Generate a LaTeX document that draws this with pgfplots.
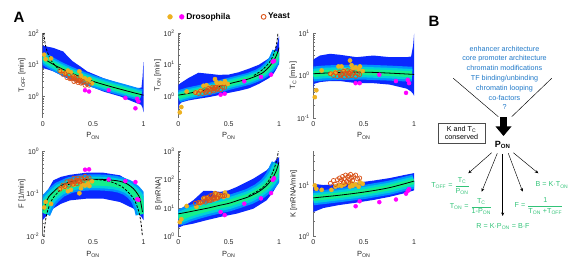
\documentclass[border=0pt]{standalone}
\usepackage{fontspec}
\setmainfont{Liberation Sans}
\usepackage{pgfplots}
\pgfplotsset{compat=1.18}
\usetikzlibrary{arrows.meta}

\definecolor{droso}{RGB}{237,177,32}
\definecolor{magen}{RGB}{255,0,255}
\definecolor{yeastc}{RGB}{217,83,25}
\definecolor{dens1}{RGB}{10,40,255}
\definecolor{dens2}{RGB}{0,145,255}
\definecolor{dens3}{RGB}{0,210,215}
\definecolor{dens4}{RGB}{20,240,140}
\definecolor{axgray}{RGB}{110,110,110}
\definecolor{btext}{RGB}{30,120,200}
\definecolor{gtext}{RGB}{50,195,120}

\pgfplotsset{
  every axis/.append style={
    scale only axis, width=100.8pt, height=85pt, anchor=south west,
    xmin=0, xmax=1,
    axis lines=left, axis line style={-, draw=axgray, line width=0.6pt},
    x axis line style={draw=none},
    xtick={0,0.5,1}, xticklabels={0,0.5,1},
    xtick style={draw=none},
    ytick style={draw=axgray, line width=0.5pt},
    tick align=inside, major tick length=2.5pt, minor tick length=1.5pt,
    ticklabel style={font=\fontsize{7}{8}\selectfont, text=black!85},
    label style={font=\fontsize{7.5}{9}\selectfont, text=black!85},
    xlabel={P\textsubscript{ON}},
    xlabel style={at={(axis description cs:0.5,-0.21)}, anchor=center},
  },
  densln/.style={no marks, line cap=butt, line join=round},
  ptorange/.style={only marks, mark=*, color=droso, mark size=2.1pt},
  ptmag/.style={only marks, mark=*, color=magen, mark size=2pt},
  ptyeast/.style={only marks, mark=o, color=yeastc, mark size=2.1pt, line width=0.7pt},
  solidcurve/.style={black, line width=0.8pt, no marks, smooth},
  dashcurve/.style={black, line width=0.8pt, no marks, smooth, dash pattern=on 2.5pt off 1.5pt},
}

\begin{document}
\begin{tikzpicture}[x=1pt,y=1pt]
\path[use as bounding box] (0pt,0pt) rectangle (571pt,267pt);

% ---------------- T_OFF ----------------
\begin{axis}[at={(42.7pt,149pt)}, ymode=log, ymin=0.21, ymax=100,
  ytick={1,10,100}, yticklabels={10\textsuperscript{0},10\textsuperscript{1},10\textsuperscript{2}},
  minor ytick={0.3,0.4,0.5,0.6,0.7,0.8,0.9,2,3,4,5,6,7,8,9,20,30,40,50,60,70,80,90},
  ylabel={T\textsubscript{OFF} [min]},
  ylabel style={at={(axis description cs:-0.205,0.5)}, anchor=center}]
\addplot[fill=dens1, draw=none] coordinates {(0,7.9) (0.05,7.1) (0.105,6.2) (0.17,4.9) (0.24,3.8) (0.34,2.9) (0.44,2.3) (0.6,1.44) (0.77,1.0) (0.93,0.62) (0.975,0.55) (0.99,0.45) (1.0,0.32)
 (1.0,12) (0.99,4) (0.98,1.9) (0.93,1.84) (0.77,2.5) (0.6,3.8) (0.44,6.2) (0.37,9) (0.30,12.7) (0.25,18) (0.205,26) (0.105,34) (0.05,37) (0,40)};
\addplot[densln, dens2, line width=12pt] coordinates {(0,17.5) (0.05,13) (0.1,10.5) (0.15,8.6) (0.2,7.2) (0.3,5.2) (0.4,3.9) (0.5,3.0) (0.6,2.4) (0.7,1.95) (0.8,1.6) (0.9,1.3) (0.975,1.1)};
\addplot[densln, dens3, line width=8.5pt] coordinates {(0,17.5) (0.05,13) (0.1,10.5) (0.15,8.6) (0.2,7.2) (0.3,5.2) (0.4,3.9) (0.5,3.0) (0.6,2.4) (0.7,1.95) (0.8,1.6) (0.9,1.3) (0.975,1.1)};
\addplot[densln, dens4, line width=5pt] coordinates {(0,17.5) (0.05,13) (0.1,10.5) (0.15,8.6) (0.2,7.2) (0.3,5.2) (0.4,3.9) (0.5,3.0) (0.6,2.4) (0.7,1.95) (0.8,1.6) (0.9,1.3) (0.975,1.1)};
\addplot[solidcurve] coordinates {(0.02,15) (0.05,13) (0.1,10.5) (0.15,8.6) (0.2,7.2) (0.3,5.2) (0.4,3.9) (0.5,3.0) (0.6,2.4) (0.7,1.95) (0.8,1.6) (0.9,1.32) (1.0,1.1)};
\addplot[dashcurve] coordinates {(0.0115,100) (0.015,77) (0.02,57) (0.03,38) (0.05,23) (0.08,14.4) (0.1,11.5) (0.15,7.7) (0.2,5.75) (0.25,4.6)};
\addplot[ptorange] coordinates {(0.015,20.7) (0.03,15.0) (0.083,15.8) (0.18,6.11) (0.22,5.45) (0.25,6.52) (0.28,5.82) (0.31,4.23) (0.364,6.18) (0.364,3.30) (0.38,4.58) (0.39,3.72) (0.42,3.69) (0.463,3.52) (0.49,2.59) (0.45,3.11)};
\addplot[ptmag] coordinates {(0.42,1.57) (0.46,1.435) (0.655,1.588) (0.82,0.902) (0.92,0.424) (0.937,0.843) (0.95,0.695)};
\addplot[ptyeast] coordinates {(0.17,6.47) (0.20,5.0) (0.22,5.23) (0.24,3.96) (0.26,4.62) (0.27,3.63) (0.29,3.79) (0.30,4.17) (0.31,2.97) (0.32,3.59) (0.33,3.18) (0.34,3.82) (0.35,2.77) (0.36,3.11) (0.37,3.30) (0.38,2.63) (0.39,2.77) (0.40,2.95) (0.42,2.26) (0.44,2.5) (0.46,2.28) (0.28,3.75) (0.35,3.29)};
\end{axis}

% ---------------- T_ON ----------------
\begin{axis}[at={(178.3pt,149pt)}, ymode=log, ymin=0.21, ymax=100,
  ytick={1,10,100}, yticklabels={10\textsuperscript{0},10\textsuperscript{1},10\textsuperscript{2}},
  minor ytick={0.3,0.4,0.5,0.6,0.7,0.8,0.9,2,3,4,5,6,7,8,9,20,30,40,50,60,70,80,90},
  ylabel={T\textsubscript{ON} [min]},
  ylabel style={at={(axis description cs:-0.205,0.5)}, anchor=center},
  legend entries={Drosophila,Yeast},
  legend style={at={(axis description cs:0.51,1.19)}, anchor=center, draw=none, fill=none,
    legend columns=2, font=\bfseries\fontsize{8.4}{9}\selectfont,
    /tikz/every even column/.append style={column sep=29pt}},
  legend cell align=left]
\addlegendimage{legend image code/.code={\fill[droso] (0pt,0pt) circle (2.4pt); \fill[magen] (11.7pt,0pt) circle (2.4pt);}}
\addlegendimage{only marks, mark=o, color=yeastc, mark size=2.4pt, line width=0.9pt}
\addplot[fill=dens1, draw=none, forget plot] coordinates {(0,0.38) (0.01,0.55) (0.03,0.65) (0.1,0.75) (0.2,0.85) (0.3,0.95) (0.4,1.1) (0.5,1.3) (0.6,1.5) (0.7,1.8) (0.8,2.5) (0.9,3.8) (0.95,5.5) (0.98,8) (1.0,12.6)
 (1.0,80) (0.98,45) (0.95,25) (0.9,16) (0.8,10) (0.7,7.5) (0.6,5.8) (0.5,4.9) (0.4,4.8) (0.3,5.2) (0.2,5.6) (0.1,3.8) (0.05,3.0) (0.02,2.6) (0,2.3)};
\addplot[densln, dens2, line width=12pt, forget plot] coordinates {(0,1.0) (0.1,1.25) (0.2,1.45) (0.3,1.7) (0.4,2.05) (0.5,2.5) (0.6,3.0) (0.7,3.6) (0.8,4.8) (0.85,6) (0.9,8.3) (0.95,13) (0.99,25)};
\addplot[densln, dens3, line width=8.5pt, forget plot] coordinates {(0,1.0) (0.1,1.25) (0.2,1.45) (0.3,1.7) (0.4,2.05) (0.5,2.5) (0.6,3.0) (0.7,3.6) (0.8,4.8) (0.85,6) (0.9,8.3) (0.95,13) (0.99,25)};
\addplot[densln, dens4, line width=5pt, forget plot] coordinates {(0,1.0) (0.1,1.25) (0.2,1.45) (0.3,1.7) (0.4,2.05) (0.5,2.5) (0.6,3.0) (0.7,3.6) (0.8,4.8) (0.85,6) (0.9,8.3) (0.95,13) (0.99,25)};
\addplot[solidcurve, forget plot] coordinates {(0,1.1) (0.1,1.25) (0.2,1.45) (0.3,1.7) (0.4,2.05) (0.5,2.5) (0.6,3.0) (0.7,3.6) (0.8,4.8) (0.85,6) (0.9,8.5) (0.95,14) (0.98,22) (1.0,35)};
\addplot[dashcurve, forget plot] coordinates {(0.75,4.6) (0.8,5.75) (0.85,7.7) (0.9,11.5) (0.93,16.4) (0.95,23) (0.97,38) (0.98,57) (0.985,77) (0.9885,100)};
\addplot[ptorange, forget plot] coordinates {(0.015,0.315) (0.03,0.464) (0.083,1.43) (0.18,1.341) (0.22,1.538) (0.25,2.173) (0.28,2.264) (0.31,1.899) (0.364,3.537) (0.364,1.887) (0.38,2.806) (0.39,2.377) (0.42,2.672) (0.463,3.035) (0.49,2.49) (0.45,2.545)};
\addplot[ptmag, forget plot] coordinates {(0.42,1.138) (0.46,1.222) (0.655,3.01) (0.82,4.11) (0.92,4.875) (0.937,12.5) (0.95,13.2)};
\addplot[ptyeast, forget plot] coordinates {(0.17,1.325) (0.20,1.25) (0.22,1.474) (0.24,1.25) (0.26,1.62) (0.27,1.342) (0.29,1.549) (0.30,1.786) (0.31,1.333) (0.32,1.691) (0.33,1.567) (0.34,1.970) (0.35,1.492) (0.36,1.75) (0.37,1.937) (0.38,1.613) (0.39,1.770) (0.40,1.967) (0.42,1.638) (0.44,1.964) (0.46,1.944) (0.28,1.458) (0.35,1.769)};
\end{axis}

% ---------------- T_C ----------------
\begin{axis}[at={(313.3pt,149pt)}, ymode=log, ymin=0.1, ymax=10,
  ytick={0.1,1,10}, yticklabels={10\textsuperscript{-1},10\textsuperscript{0},10\textsuperscript{1}},
  minor ytick={0.2,0.3,0.4,0.5,0.6,0.7,0.8,0.9,2,3,4,5,6,7,8,9},
  ylabel={T\textsubscript{C} [min]},
  ylabel style={at={(axis description cs:-0.2,0.5)}, anchor=center}]
\addplot[fill=dens1, draw=none] coordinates {(0,0.5) (0.01,0.64) (0.066,0.70) (0.166,0.74) (0.265,0.74) (0.43,0.66) (0.595,0.66) (0.76,0.61) (0.927,0.49) (0.97,0.42) (0.99,0.37) (1.0,0.33)
 (1.0,9.6) (0.99,5) (0.97,2.8) (0.927,2.7) (0.76,2.7) (0.595,2.95) (0.43,2.7) (0.265,3.07) (0.166,3.24) (0.066,2.95) (0.01,2.46) (0,2.3)};
\addplot[densln, dens2, line width=15pt] coordinates {(0,1.08) (0.1,1.14) (0.25,1.18) (0.5,1.2) (0.75,1.14) (0.98,1.07)};
\addplot[densln, dens3, line width=10.5pt] coordinates {(0,1.08) (0.1,1.14) (0.25,1.18) (0.5,1.2) (0.75,1.14) (0.98,1.07)};
\addplot[densln, dens4, line width=6pt] coordinates {(0,1.08) (0.1,1.14) (0.25,1.18) (0.5,1.2) (0.75,1.14) (0.98,1.07)};
\addplot[solidcurve] coordinates {(0,1.1) (0.25,1.18) (0.5,1.2) (0.75,1.14) (1.0,1.06)};
\addplot[ptorange] coordinates {(0.015,0.31) (0.03,0.45) (0.083,1.31) (0.18,1.10) (0.22,1.20) (0.25,1.63) (0.28,1.63) (0.31,1.31) (0.364,2.25) (0.364,1.20) (0.38,1.74) (0.39,1.45) (0.42,1.55) (0.463,1.63) (0.49,1.27) (0.45,1.40)};
\addplot[ptmag] coordinates {(0.42,0.66) (0.46,0.66) (0.655,1.04) (0.82,0.74) (0.92,0.39) (0.937,0.79) (0.95,0.66)};
\addplot[ptyeast] coordinates {(0.17,1.10) (0.20,1.00) (0.22,1.15) (0.24,0.95) (0.26,1.20) (0.27,0.98) (0.29,1.10) (0.30,1.25) (0.31,0.92) (0.32,1.15) (0.33,1.05) (0.34,1.30) (0.35,0.97) (0.36,1.12) (0.37,1.22) (0.38,1.00) (0.39,1.08) (0.40,1.18) (0.42,0.95) (0.44,1.10) (0.46,1.05) (0.28,1.05) (0.35,1.15)};
\end{axis}

% ---------------- F ----------------
\begin{axis}[at={(42.7pt,30.7pt)}, ymode=log, ymin=0.01, ymax=1,
  ytick={0.01,0.1,1}, yticklabels={10\textsuperscript{-2},10\textsuperscript{-1},10\textsuperscript{0}},
  minor ytick={0.02,0.03,0.04,0.05,0.06,0.07,0.08,0.09,0.2,0.3,0.4,0.5,0.6,0.7,0.8,0.9},
  ylabel={F [1/min]},
  ylabel style={at={(axis description cs:-0.205,0.5)}, anchor=center}]
\addplot[fill=dens1, draw=none] coordinates {(0,0.024) (0.04,0.031) (0.105,0.045) (0.18,0.058) (0.27,0.07) (0.437,0.077) (0.6,0.077) (0.767,0.064) (0.9,0.045) (0.965,0.031) (0.98,0.0285) (1.0,0.024)
 (1.0,0.049) (0.98,0.08) (0.965,0.11) (0.9,0.174) (0.767,0.272) (0.6,0.314) (0.437,0.314) (0.27,0.28) (0.18,0.25) (0.105,0.207) (0.04,0.11) (0,0.07)};
\addplot[densln, dens2, line width=16pt] coordinates {(0,0.036) (0.03,0.052) (0.06,0.07) (0.105,0.092) (0.17,0.125) (0.27,0.16) (0.38,0.18) (0.48,0.186) (0.6,0.184) (0.7,0.175) (0.77,0.162) (0.84,0.14) (0.9,0.11) (0.94,0.085) (0.965,0.065) (0.985,0.048) (1.0,0.034)};
\addplot[densln, dens3, line width=11.5pt] coordinates {(0,0.036) (0.03,0.052) (0.06,0.07) (0.105,0.092) (0.17,0.125) (0.27,0.16) (0.38,0.18) (0.48,0.186) (0.6,0.184) (0.7,0.175) (0.77,0.162) (0.84,0.14) (0.9,0.11) (0.94,0.085) (0.965,0.065) (0.985,0.048) (1.0,0.034)};
\addplot[densln, dens4, line width=6.5pt] coordinates {(0,0.036) (0.03,0.052) (0.06,0.07) (0.105,0.092) (0.17,0.125) (0.27,0.16) (0.38,0.18) (0.48,0.186) (0.6,0.184) (0.7,0.175) (0.77,0.162) (0.84,0.14) (0.9,0.11) (0.94,0.085) (0.965,0.065) (0.985,0.048) (1.0,0.034)};
\addplot[solidcurve] coordinates {(0.01,0.041) (0.03,0.06) (0.06,0.085) (0.105,0.11) (0.17,0.15) (0.27,0.19) (0.38,0.212) (0.48,0.22) (0.6,0.218) (0.7,0.208) (0.77,0.196) (0.84,0.17) (0.9,0.132) (0.94,0.1) (0.965,0.077) (0.99,0.037)};
\addplot[dashcurve] coordinates {(0.0116,0.01) (0.015,0.013) (0.02,0.017) (0.03,0.025) (0.05,0.041) (0.1,0.078) (0.2,0.139) (0.3,0.183) (0.4,0.209) (0.5,0.217) (0.6,0.209) (0.7,0.183) (0.8,0.139) (0.9,0.078) (0.95,0.041) (0.97,0.025) (0.98,0.017) (0.985,0.013) (0.9884,0.01)};
\addplot[ptorange] coordinates {(0.015,0.0477) (0.03,0.0647) (0.083,0.0581) (0.18,0.134) (0.22,0.143) (0.25,0.115) (0.28,0.1237) (0.31,0.1633) (0.364,0.1029) (0.364,0.193) (0.38,0.1354) (0.39,0.164) (0.42,0.157) (0.463,0.1525) (0.49,0.197) (0.45,0.177)};
\addplot[ptmag] coordinates {(0.42,0.369) (0.46,0.376) (0.655,0.217) (0.82,0.199) (0.92,0.189) (0.937,0.0747) (0.95,0.072)};
\addplot[ptyeast] coordinates {(0.17,0.128) (0.20,0.16) (0.22,0.149) (0.24,0.192) (0.26,0.160) (0.27,0.201) (0.29,0.187) (0.30,0.168) (0.31,0.2325) (0.32,0.189) (0.33,0.2106) (0.34,0.1726) (0.35,0.2345) (0.36,0.2057) (0.37,0.191) (0.38,0.2356) (0.39,0.220) (0.40,0.203) (0.42,0.2564) (0.44,0.224) (0.46,0.2366) (0.28,0.192) (0.35,0.198)};
\end{axis}

% ---------------- B ----------------
\begin{axis}[at={(178.3pt,30.7pt)}, ymode=log, ymin=1, ymax=1000,
  ytick={1,10,100,1000}, yticklabels={10\textsuperscript{0},10\textsuperscript{1},10\textsuperscript{2},10\textsuperscript{3}},
  minor ytick={2,3,4,5,6,7,8,9,20,30,40,50,60,70,80,90,200,300,400,500,600,700,800,900},
  ylabel={B [mRNA]},
  ylabel style={at={(axis description cs:-0.195,0.5)}, anchor=center}]
\addplot[fill=dens1, draw=none] coordinates {(0,2.0) (0.05,2.4) (0.149,2.8) (0.28,3.7) (0.414,4.8) (0.579,6.3) (0.744,9.4) (0.877,18.7) (0.94,36.7) (1.0,83)
 (1.0,630) (0.97,500) (0.94,367) (0.877,214) (0.744,108) (0.579,55) (0.5,42) (0.414,37) (0.33,40) (0.25,40) (0.149,18.7) (0.05,10.8) (0,8)};
\addplot[densln, dens2, line width=16pt] coordinates {(0,4.5) (0.05,5.2) (0.1,6.2) (0.2,8.0) (0.3,10) (0.41,12.4) (0.5,14.5) (0.6,19) (0.7,25) (0.8,38) (0.877,62) (0.92,95) (0.95,140) (0.975,220) (1.0,330)};
\addplot[densln, dens3, line width=11.5pt] coordinates {(0,4.5) (0.05,5.2) (0.1,6.2) (0.2,8.0) (0.3,10) (0.41,12.4) (0.5,14.5) (0.6,19) (0.7,25) (0.8,38) (0.877,62) (0.92,95) (0.95,140) (0.975,220) (1.0,330)};
\addplot[densln, dens4, line width=6.5pt] coordinates {(0,4.5) (0.05,5.2) (0.1,6.2) (0.2,8.0) (0.3,10) (0.41,12.4) (0.5,14.5) (0.6,19) (0.7,25) (0.8,38) (0.877,62) (0.92,95) (0.95,140) (0.975,220) (1.0,330)};
\addplot[solidcurve] coordinates {(0,6.2) (0.1,7.2) (0.2,8.5) (0.3,10) (0.41,12.4) (0.5,14.5) (0.6,19) (0.7,25) (0.8,38) (0.877,62) (0.92,95) (0.95,140) (0.975,220) (1.0,420)};
\addplot[dashcurve] coordinates {(0.7,27) (0.8,42) (0.86,62) (0.9,95) (0.93,160) (0.95,240) (0.97,400) (0.985,700) (0.993,1000)};
\addplot[ptorange] coordinates {(0.015,3.15) (0.03,3.99) (0.083,11.7) (0.18,11.0) (0.22,14.6) (0.25,21.7) (0.28,22.2) (0.31,19.9) (0.364,33.6) (0.364,20.4) (0.38,30.9) (0.39,23.3) (0.42,28.1) (0.463,34.9) (0.49,26.9) (0.45,24.2)};
\addplot[ptmag] coordinates {(0.42,7.2) (0.46,5.6) (0.655,14.2) (0.82,21.8) (0.92,33.6) (0.937,97.8) (0.95,112)};
\addplot[ptyeast] coordinates {(0.17,14.6) (0.20,15.6) (0.22,15.5) (0.24,16.25) (0.26,22.7) (0.27,16.1) (0.29,23.2) (0.30,20.5) (0.31,18.0) (0.32,27.1) (0.33,18.8) (0.34,28.6) (0.35,23.1) (0.36,22.75) (0.37,32.0) (0.38,22.6) (0.39,22.1) (0.40,29.5) (0.42,26.2) (0.44,26.5) (0.46,27.2) (0.28,19.0) (0.35,20.3)};
\end{axis}

% ---------------- K ----------------
\begin{axis}[at={(313.3pt,30.7pt)}, ymode=log, ymin=1, ymax=47,
  ytick={1,10}, yticklabels={10\textsuperscript{0},10\textsuperscript{1}},
  minor ytick={2,3,4,5,6,7,8,9,20,30,40},
  ylabel={K [mRNA/min]},
  ylabel style={at={(axis description cs:-0.195,0.5)}, anchor=center}]
\addplot[fill=dens1, draw=none] coordinates {(0,3.0) (0.1,3.6) (0.25,4.1) (0.43,4.6) (0.6,5.2) (0.76,6.0) (0.9,7.0) (1.0,8.0)
 (1.0,17.5) (0.9,16) (0.76,14) (0.6,12.5) (0.43,11.3) (0.25,10.5) (0.1,10.2) (0,10.8)};
\addplot[densln, dens2, line width=14pt] coordinates {(0,5.6) (0.25,6.4) (0.5,7.4) (0.75,9.0) (1.0,12.0)};
\addplot[densln, dens3, line width=10pt] coordinates {(0,5.6) (0.25,6.4) (0.5,7.4) (0.75,9.0) (1.0,12.0)};
\addplot[densln, dens4, line width=5.5pt] coordinates {(0,5.6) (0.25,6.4) (0.5,7.4) (0.75,9.0) (1.0,12.0)};
\addplot[solidcurve] coordinates {(0,5.7) (0.25,6.4) (0.5,7.4) (0.75,9.0) (1.0,12.2)};
\addplot[ptorange] coordinates {(0.015,10.0) (0.03,8.6) (0.083,8.2) (0.18,8.2) (0.22,9.5) (0.25,10) (0.28,9.8) (0.31,10.5) (0.364,9.5) (0.364,10.8) (0.38,11) (0.39,9.8) (0.42,10.5) (0.463,11.5) (0.49,10.8) (0.45,9.5)};
\addplot[ptmag] coordinates {(0.42,3.9) (0.46,4.9) (0.655,4.7) (0.82,5.3) (0.92,6.9) (0.937,7.8) (0.95,8.5)};
\addplot[ptyeast] coordinates {(0.17,11.0) (0.20,12.5) (0.22,10.5) (0.24,13.0) (0.26,14.0) (0.27,12.0) (0.29,15.0) (0.30,11.5) (0.31,13.5) (0.32,16.0) (0.33,12.0) (0.34,14.5) (0.35,15.5) (0.36,13.0) (0.37,16.5) (0.38,14.0) (0.39,12.5) (0.40,15.0) (0.42,16.0) (0.44,13.5) (0.46,14.0) (0.28,13.0) (0.35,11.5)};
\end{axis}

% ---------------- panel labels ----------------
\node[font=\bfseries\fontsize{15}{15}\selectfont] at (19pt,250pt) {A};
\node[font=\bfseries\fontsize{15}{15}\selectfont] at (434pt,246pt) {B};

% ---------------- panel B ----------------
\node[text=btext, align=center, font=\fontsize{7.2}{9.8}\selectfont] at (504.5pt,189.2pt)
  {enhancer architecture\\core promoter architecture\\chromatin modifications\\TF binding/unbinding\\chromatin looping\\co-factors\\?};
\draw[black, line width=0.45pt] (453.3pt,188.7pt) -- (498.3pt,150.3pt);
\draw[black, line width=0.45pt] (551.7pt,188.7pt) -- (511.7pt,150.3pt);
\node[draw=black!70, line width=0.6pt, minimum width=47pt, minimum height=20pt, inner sep=1pt,
  align=center, font=\fontsize{7.2}{8.6}\selectfont] at (461.5pt,134pt) {K and T\textsubscript{C}\\conserved};
\fill[black] (500pt,150pt) rectangle (507pt,140pt);
\fill[black] (495.5pt,140.5pt) -- (511.5pt,140.5pt) -- (503.5pt,131pt) -- cycle;
\node[font=\bfseries\fontsize{9}{9}\selectfont] at (502.7pt,122pt) {P\textsubscript{ON}};
\begin{scope}[black, line width=0.45pt, -{Stealth[length=3.5pt,width=3pt]}]
\draw (491.7pt,114.3pt) -- (468.3pt,93.7pt);
\draw (497.3pt,113.7pt) -- (481.7pt,75.3pt);
\draw (502.7pt,113pt) -- (502.7pt,51pt);
\draw (508.3pt,113.7pt) -- (522.7pt,75.3pt);
\draw (513.3pt,114.3pt) -- (538.3pt,93.7pt);
\end{scope}
\begin{scope}[font=\fontsize{7.2}{8.6}\selectfont, color=gtext]
\node[text=gtext] at (450.5pt,81pt) {T\textsubscript{OFF} = $\displaystyle\frac{\mbox{T\textsubscript{C}}}{\mbox{P\textsubscript{ON}}}$};
\node[text=gtext] at (471pt,60.3pt) {T\textsubscript{ON} = $\displaystyle\frac{\mbox{T\textsubscript{C}}}{\mbox{1-P\textsubscript{ON}}}$};
\node[text=gtext] at (552pt,82pt) {B = K·T\textsubscript{ON}};
\node[text=gtext] at (539pt,61pt) {F = $\displaystyle\frac{\mbox{1}}{\mbox{T\textsubscript{ON} +T\textsubscript{OFF}}}$};
\node[text=gtext] at (503pt,40.3pt) {R = K·P\textsubscript{ON} = B·F};
\end{scope}
\end{tikzpicture}
\end{document}
